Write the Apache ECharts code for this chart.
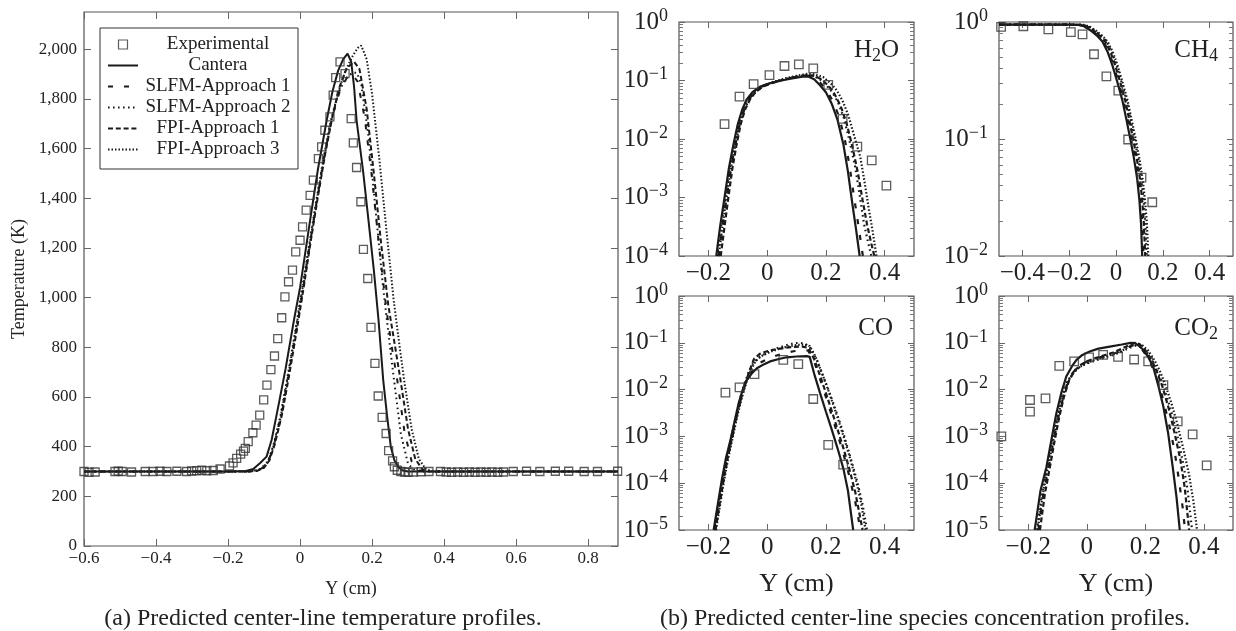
<!DOCTYPE html>
<html>
<head>
<meta charset="utf-8">
<script src="https://cdn.jsdelivr.net/npm/echarts@6/dist/echarts.min.js"></script>
<style>
  html, body { margin: 0; background: #fff; }
  #chart { width: 1236px; height: 631px; }
</style>
</head>
<body>
<div id="chart"></div>
<script>
var serif = 'Liberation Serif';
var ink = '#222';
var frame = '#555';
var tickCol = '#666';

var seriesNames = ['Experimental', 'Cantera', 'SLFM-Approach 1', 'SLFM-Approach 2', 'FPI-Approach 1', 'FPI-Approach 3'];

// ---- (a) temperature, [Y (cm), T (K)]
var tempExp = [[-0.600,300],[-0.586,297],[-0.569,298],[-0.514,300],[-0.505,301],[-0.494,300],[-0.468,298],[-0.430,300],[-0.408,300],[-0.389,301],[-0.370,300],[-0.342,301],[-0.315,300],[-0.301,302],[-0.287,303],[-0.273,305],[-0.259,303],[-0.241,304],[-0.222,310],[-0.196,322],[-0.186,335],[-0.176,353],[-0.165,370],[-0.157,382],[-0.152,393],[-0.144,420],[-0.131,456],[-0.122,487],[-0.112,527],[-0.101,588],[-0.092,648],[-0.081,710],[-0.071,765],[-0.062,835],[-0.051,919],[-0.042,1003],[-0.032,1064],[-0.021,1111],[-0.012,1184],[0.000,1231],[0.007,1285],[0.017,1352],[0.028,1412],[0.037,1473],[0.051,1560],[0.060,1607],[0.069,1674],[0.083,1728],[0.092,1815],[0.099,1886],[0.111,1949],[0.125,1902],[0.142,1721],[0.148,1623],[0.157,1524],[0.169,1386],[0.176,1194],[0.188,1077],[0.197,880],[0.208,735],[0.217,604],[0.228,518],[0.239,453],[0.246,384],[0.257,343],[0.262,319],[0.270,305],[0.280,300],[0.290,298],[0.300,297],[0.315,298],[0.336,299],[0.358,300],[0.390,300],[0.406,298],[0.421,297],[0.438,298],[0.454,297],[0.470,298],[0.486,297],[0.502,298],[0.517,297],[0.533,298],[0.549,297],[0.565,298],[0.592,300],[0.629,301],[0.666,300],[0.709,301],[0.746,301],[0.789,300],[0.826,300],[0.882,301]];
var tempCantera = [[-0.6,300],[-0.2,300],[-0.15,302],[-0.13,310],[-0.11,335],[-0.093,360],[-0.079,427],[-0.06,565],[-0.04,715],[-0.017,909],[0,1040],[0.028,1312],[0.05,1520],[0.074,1714],[0.09,1830],[0.106,1915],[0.12,1960],[0.132,1982],[0.142,1950],[0.15,1850],[0.157,1714],[0.175,1510],[0.19,1312],[0.205,1110],[0.218,909],[0.231,668],[0.242,520],[0.252,400],[0.262,345],[0.273,318],[0.285,304],[0.3,300],[0.883,300]];
var tempSlfm1 = [[-0.6,300],[-0.15,300],[-0.12,303],[-0.1,318],[-0.085,350],[-0.07,420],[-0.05,540],[-0.03,700],[-0.01,870],[0.01,1050],[0.03,1240],[0.05,1420],[0.07,1590],[0.09,1730],[0.11,1830],[0.13,1885],[0.145,1900],[0.16,1870],[0.18,1720],[0.2,1480],[0.22,1200],[0.24,950],[0.255,800],[0.27,668],[0.29,460],[0.31,340],[0.33,305],[0.35,300],[0.883,300]];
var tempSlfm2 = [[-0.6,300],[-0.14,300],[-0.11,310],[-0.09,340],[-0.075,400],[-0.055,520],[-0.035,680],[-0.015,850],[0.005,1030],[0.025,1210],[0.045,1390],[0.065,1560],[0.085,1710],[0.105,1820],[0.125,1880],[0.145,1905],[0.158,1905],[0.17,1860],[0.19,1650],[0.21,1350],[0.23,1050],[0.25,800],[0.261,668],[0.28,450],[0.3,330],[0.32,303],[0.34,300],[0.883,300]];
var tempFpi1 = [[-0.6,300],[-0.15,300],[-0.12,302],[-0.1,315],[-0.085,345],[-0.07,410],[-0.05,530],[-0.03,690],[-0.01,860],[0.01,1040],[0.03,1230],[0.05,1410],[0.07,1580],[0.09,1730],[0.11,1850],[0.13,1925],[0.15,1950],[0.165,1920],[0.185,1760],[0.205,1500],[0.225,1220],[0.245,970],[0.262,820],[0.279,668],[0.3,470],[0.32,350],[0.34,308],[0.36,300],[0.883,300]];
var tempFpi3 = [[-0.6,300],[-0.14,300],[-0.11,308],[-0.09,335],[-0.075,395],[-0.055,510],[-0.035,670],[-0.015,840],[0.005,1020],[0.025,1200],[0.045,1380],[0.065,1550],[0.085,1700],[0.105,1820],[0.125,1910],[0.145,1970],[0.16,2005],[0.17,2015],[0.185,1960],[0.2,1820],[0.22,1560],[0.24,1270],[0.26,990],[0.275,820],[0.289,668],[0.31,470],[0.33,350],[0.35,308],[0.37,300],[0.883,300]];

// ---- (b) species mole fractions, [Y (cm), X]
var h2oExp = [[-0.145,0.018],[-0.094,0.053],[-0.046,0.087],[0.008,0.124],[0.059,0.177],[0.108,0.189],[0.157,0.161],[0.208,0.084],[0.257,0.022],[0.307,0.0074],[0.356,0.0043],[0.406,0.0016]];
var h2oCantera = [[-0.173,1e-4],[-0.16,3.2e-4],[-0.145,1e-3],[-0.13,3.2e-3],[-0.115,7.9e-3],[-0.1,0.0178],[-0.085,0.0316],[-0.07,0.047],[-0.05,0.063],[-0.025,0.078],[0,0.087],[0.04,0.098],[0.08,0.107],[0.12,0.116],[0.14,0.117],[0.16,0.105],[0.18,0.083],[0.2,0.063],[0.22,0.04],[0.24,0.021],[0.26,0.0079],[0.275,0.0028],[0.29,7.9e-4],[0.303,2.8e-4],[0.315,1e-4]];
var h2oSlfm1 = [[-0.165,1e-4],[-0.152,3.2e-4],[-0.138,1e-3],[-0.123,3.2e-3],[-0.108,8e-3],[-0.093,0.018],[-0.078,0.032],[-0.062,0.048],[-0.042,0.064],[-0.018,0.079],[0.01,0.09],[0.05,0.102],[0.09,0.113],[0.125,0.122],[0.145,0.12],[0.165,0.108],[0.185,0.087],[0.205,0.065],[0.225,0.043],[0.245,0.024],[0.265,0.0095],[0.28,0.0036],[0.295,0.0011],[0.31,3.5e-4],[0.326,1e-4]];
var h2oSlfm2 = [[-0.17,1e-4],[-0.157,3.2e-4],[-0.142,1e-3],[-0.127,3.2e-3],[-0.112,8e-3],[-0.097,0.018],[-0.082,0.032],[-0.065,0.048],[-0.045,0.063],[-0.02,0.078],[0.015,0.091],[0.055,0.104],[0.095,0.115],[0.13,0.124],[0.155,0.121],[0.18,0.105],[0.2,0.085],[0.22,0.065],[0.24,0.044],[0.26,0.024],[0.28,0.0095],[0.3,0.0033],[0.315,0.0011],[0.33,3.5e-4],[0.345,1.6e-4],[0.355,1e-4]];
var h2oFpi1 = [[-0.158,1e-4],[-0.145,3.2e-4],[-0.132,1e-3],[-0.118,3.2e-3],[-0.104,8e-3],[-0.09,0.018],[-0.075,0.032],[-0.058,0.048],[-0.04,0.063],[-0.015,0.078],[0.015,0.09],[0.055,0.103],[0.095,0.114],[0.13,0.123],[0.16,0.12],[0.185,0.105],[0.21,0.08],[0.23,0.058],[0.25,0.037],[0.27,0.019],[0.29,0.0075],[0.31,0.0025],[0.325,9e-4],[0.34,3.5e-4],[0.355,1.6e-4],[0.365,1e-4]];
var h2oFpi3 = [[-0.165,1e-4],[-0.152,3.2e-4],[-0.138,1e-3],[-0.123,3.2e-3],[-0.108,8e-3],[-0.093,0.018],[-0.078,0.032],[-0.06,0.048],[-0.04,0.064],[-0.015,0.08],[0.02,0.094],[0.06,0.108],[0.1,0.12],[0.135,0.13],[0.16,0.128],[0.19,0.115],[0.217,0.089],[0.237,0.068],[0.257,0.045],[0.277,0.025],[0.297,0.011],[0.317,0.005],[0.332,0.0018],[0.347,6e-4],[0.36,2.5e-4],[0.372,1e-4]];

var ch4Exp = [[-0.491,0.91],[-0.396,0.92],[-0.289,0.865],[-0.193,0.82],[-0.143,0.785],[-0.094,0.53],[-0.041,0.343],[0.01,0.259],[0.052,0.099],[0.109,0.0467],[0.155,0.0288]];
var ch4Cantera = [[-0.5,0.95],[-0.2,0.95],[-0.16,0.945],[-0.137,0.92],[-0.11,0.85],[-0.08,0.76],[-0.058,0.68],[-0.035,0.55],[-0.016,0.43],[0.005,0.31],[0.027,0.215],[0.045,0.145],[0.062,0.098],[0.077,0.068],[0.091,0.045],[0.1,0.03],[0.107,0.019],[0.112,0.01]];
var ch4Slfm1 = [[-0.5,0.95],[-0.2,0.95],[-0.155,0.945],[-0.132,0.92],[-0.105,0.85],[-0.075,0.76],[-0.053,0.68],[-0.03,0.55],[-0.011,0.43],[0.01,0.31],[0.032,0.215],[0.05,0.145],[0.067,0.098],[0.082,0.068],[0.096,0.045],[0.105,0.03],[0.112,0.019],[0.118,0.01]];
var ch4Slfm2 = [[-0.5,0.95],[-0.2,0.95],[-0.145,0.945],[-0.12,0.92],[-0.092,0.85],[-0.062,0.76],[-0.04,0.68],[-0.017,0.55],[0.002,0.43],[0.023,0.31],[0.045,0.215],[0.063,0.145],[0.08,0.098],[0.095,0.068],[0.109,0.045],[0.118,0.03],[0.125,0.019],[0.131,0.01]];
var ch4Fpi1 = [[-0.5,0.95],[-0.2,0.95],[-0.15,0.945],[-0.125,0.92],[-0.098,0.85],[-0.068,0.76],[-0.046,0.68],[-0.023,0.55],[-0.004,0.43],[0.017,0.31],[0.039,0.215],[0.057,0.145],[0.074,0.098],[0.089,0.068],[0.103,0.045],[0.112,0.03],[0.119,0.019],[0.125,0.01]];
var ch4Fpi3 = [[-0.5,0.95],[-0.2,0.95],[-0.14,0.945],[-0.116,0.92],[-0.088,0.85],[-0.058,0.76],[-0.036,0.68],[-0.013,0.55],[0.006,0.43],[0.027,0.31],[0.049,0.215],[0.067,0.145],[0.085,0.098],[0.1,0.068],[0.114,0.045],[0.124,0.03],[0.132,0.019],[0.138,0.01]];

var coExp = [[-0.142,0.0086],[-0.094,0.0112],[-0.043,0.0215],[0.055,0.043],[0.106,0.035],[0.157,0.0063],[0.208,6.6e-4],[0.259,2.5e-4]];
var coCantera = [[-0.182,1e-5],[-0.168,3.5e-5],[-0.154,1.2e-4],[-0.14,3.5e-4],[-0.125,8.3e-4],[-0.11,2.2e-3],[-0.097,5.1e-3],[-0.083,0.01],[-0.069,0.016],[-0.05,0.023],[-0.035,0.0285],[-0.01,0.035],[0.01,0.04],[0.04,0.045],[0.067,0.049],[0.1,0.051],[0.135,0.052],[0.145,0.05],[0.16,0.022],[0.18,0.0085],[0.2,0.0034],[0.22,0.0014],[0.24,5.5e-4],[0.26,2e-4],[0.275,7e-5],[0.293,1e-5]];
var coSlfm1 = [[-0.178,1e-5],[-0.164,3.5e-5],[-0.15,1.2e-4],[-0.136,3.5e-4],[-0.121,8.5e-4],[-0.106,2.3e-3],[-0.092,5.5e-3],[-0.078,0.011],[-0.063,0.019],[-0.045,0.028],[-0.025,0.037],[0,0.045],[0.03,0.053],[0.06,0.06],[0.09,0.066],[0.12,0.07],[0.14,0.068],[0.16,0.04],[0.18,0.017],[0.2,0.007],[0.22,0.0028],[0.24,1.1e-3],[0.26,4.2e-4],[0.28,1.4e-4],[0.3,4e-5],[0.318,1e-5]];
var coSlfm2 = [[-0.18,1e-5],[-0.166,3.5e-5],[-0.152,1.2e-4],[-0.138,3.5e-4],[-0.123,9e-4],[-0.108,2.4e-3],[-0.094,5.8e-3],[-0.08,0.012],[-0.065,0.022],[-0.048,0.036],[-0.03,0.048],[0,0.062],[0.03,0.075],[0.06,0.087],[0.09,0.097],[0.11,0.1],[0.13,0.096],[0.15,0.075],[0.17,0.042],[0.19,0.02],[0.21,0.0095],[0.23,0.0042],[0.25,1.8e-3],[0.27,7e-4],[0.29,2.6e-4],[0.31,9e-5],[0.325,3.5e-5],[0.34,1e-5]];
var coFpi1 = [[-0.176,1e-5],[-0.162,3.5e-5],[-0.148,1.2e-4],[-0.134,3.5e-4],[-0.12,9e-4],[-0.105,2.5e-3],[-0.09,6e-3],[-0.075,0.013],[-0.06,0.025],[-0.045,0.045],[-0.025,0.058],[0,0.066],[0.03,0.073],[0.06,0.078],[0.09,0.082],[0.12,0.083],[0.14,0.078],[0.16,0.045],[0.18,0.02],[0.2,0.0085],[0.22,0.0035],[0.24,1.4e-3],[0.26,5.5e-4],[0.28,2e-4],[0.3,6.5e-5],[0.325,1e-5]];
var coFpi3 = [[-0.174,1e-5],[-0.16,3.5e-5],[-0.146,1.2e-4],[-0.132,3.5e-4],[-0.118,9e-4],[-0.103,2.5e-3],[-0.088,6e-3],[-0.073,0.013],[-0.058,0.024],[-0.04,0.04],[-0.02,0.052],[0.01,0.064],[0.04,0.074],[0.07,0.083],[0.1,0.09],[0.125,0.092],[0.145,0.085],[0.165,0.05],[0.185,0.024],[0.205,0.011],[0.225,0.0048],[0.245,2e-3],[0.265,8e-4],[0.285,3e-4],[0.305,1e-4],[0.32,3.8e-5],[0.335,1e-5]];

var co2Exp = [[-0.292,1.0e-3],[-0.194,0.006],[-0.194,0.0034],[-0.141,0.0065],[-0.094,0.032],[-0.043,0.04],[0.008,0.049],[0.056,0.055],[0.107,0.05],[0.162,0.044],[0.21,0.04],[0.262,0.0125],[0.311,0.0021],[0.362,0.0011],[0.41,2.4e-4]];
var co2Cantera = [[-0.178,1e-5],[-0.158,7e-5],[-0.138,2.2e-4],[-0.12,9e-4],[-0.104,3.1e-3],[-0.087,8.5e-3],[-0.07,0.019],[-0.05,0.032],[-0.035,0.043],[-0.015,0.055],[0.01,0.065],[0.04,0.075],[0.079,0.083],[0.12,0.092],[0.15,0.1],[0.165,0.098],[0.18,0.085],[0.193,0.071],[0.21,0.05],[0.227,0.031],[0.245,0.012],[0.262,0.0043],[0.278,1.2e-3],[0.294,2.2e-4],[0.307,5e-5],[0.318,1e-5]];
var co2Slfm1 = [[-0.165,1e-5],[-0.148,6e-5],[-0.13,2.2e-4],[-0.113,8e-4],[-0.097,2.6e-3],[-0.08,7e-3],[-0.063,0.015],[-0.045,0.024],[-0.025,0.032],[0,0.04],[0.03,0.046],[0.06,0.052],[0.09,0.058],[0.12,0.068],[0.15,0.085],[0.168,0.092],[0.185,0.078],[0.2,0.058],[0.22,0.035],[0.24,0.017],[0.26,0.0065],[0.28,2e-3],[0.3,5e-4],[0.315,1.2e-4],[0.328,3e-5],[0.336,1e-5]];
var co2Slfm2 = [[-0.17,1e-5],[-0.153,6e-5],[-0.135,2.2e-4],[-0.118,8e-4],[-0.102,2.6e-3],[-0.085,7e-3],[-0.068,0.014],[-0.05,0.022],[-0.03,0.029],[0,0.036],[0.03,0.042],[0.06,0.048],[0.09,0.055],[0.12,0.065],[0.15,0.08],[0.17,0.088],[0.19,0.078],[0.21,0.058],[0.23,0.036],[0.25,0.019],[0.27,0.0085],[0.29,3.2e-3],[0.31,1e-3],[0.33,2.6e-4],[0.345,7e-5],[0.36,1e-5]];
var co2Fpi1 = [[-0.16,1e-5],[-0.143,6e-5],[-0.126,2.2e-4],[-0.11,8e-4],[-0.094,2.6e-3],[-0.078,7e-3],[-0.06,0.016],[-0.04,0.026],[-0.02,0.034],[0,0.04],[0.03,0.047],[0.06,0.054],[0.09,0.062],[0.12,0.075],[0.15,0.092],[0.165,0.1],[0.18,0.094],[0.2,0.07],[0.22,0.045],[0.24,0.024],[0.26,0.011],[0.28,4e-3],[0.3,1.2e-3],[0.32,3.2e-4],[0.335,8e-5],[0.35,1e-5]];
var co2Fpi3 = [[-0.168,1e-5],[-0.15,6e-5],[-0.132,2.2e-4],[-0.115,8e-4],[-0.099,2.6e-3],[-0.082,7e-3],[-0.065,0.015],[-0.045,0.023],[-0.025,0.03],[0,0.037],[0.03,0.044],[0.06,0.05],[0.09,0.057],[0.12,0.068],[0.15,0.085],[0.172,0.095],[0.19,0.088],[0.21,0.068],[0.23,0.044],[0.25,0.025],[0.27,0.012],[0.29,5e-3],[0.31,1.8e-3],[0.33,5.5e-4],[0.35,1.5e-4],[0.365,4e-5],[0.377,1e-5]];

// tick positions
var tempXTicks = [-0.6, -0.4, -0.2, 0, 0.2, 0.4, 0.6, 0.8];
var tempYTicks = [0, 200, 400, 600, 800, 1000, 1200, 1400, 1600, 1800, 2000];
var speciesXTicks = [-0.2, 0, 0.2, 0.4];
var ch4XTicks = [-0.4, -0.2, 0, 0.2, 0.4];

// dash patterns: experimental, Cantera, SLFM-1, SLFM-2, FPI-1, FPI-3
var lineDash = [null, 'solid', [5, 11], [1.6, 3.4], [5, 2.8], [1.5, 2]];
var lineInk = '#1a1a1a';

var panels = [
  { box: [84, 12, 534, 534], x: [-0.6, 0.883], xTicks: tempXTicks, log: false, y: [0, 2150],
    xName: true, data: [tempExp, tempCantera, tempSlfm1, tempSlfm2, tempFpi1, tempFpi3] },
  { box: [679, 22, 235, 234], x: [-0.3, 0.5], xTicks: speciesXTicks, log: true, y: [1e-4, 1],
    label: ['H', '2', 'O'], labelPos: [899, 50], data: [h2oExp, h2oCantera, h2oSlfm1, h2oSlfm2, h2oFpi1, h2oFpi3] },
  { box: [999, 22, 234, 234], x: [-0.5, 0.5], xTicks: ch4XTicks, log: true, y: [1e-2, 1],
    label: ['CH', '4', ''], labelPos: [1218, 50], data: [ch4Exp, ch4Cantera, ch4Slfm1, ch4Slfm2, ch4Fpi1, ch4Fpi3] },
  { box: [679, 296, 235, 234], x: [-0.3, 0.5], xTicks: speciesXTicks, log: true, y: [1e-5, 1],
    xName: true, label: ['CO', '', ''], labelPos: [893, 328], data: [coExp, coCantera, coSlfm1, coSlfm2, coFpi1, coFpi3] },
  { box: [999, 296, 234, 234], x: [-0.3, 0.5], xTicks: speciesXTicks, log: true, y: [1e-5, 1],
    xName: true, label: ['CO', '2', ''], labelPos: [1218, 328], data: [co2Exp, co2Cantera, co2Slfm1, co2Slfm2, co2Fpi1, co2Fpi3] }
];

function fmtX(v) {
  if (Math.abs(v) < 1e-9) return '0';
  return (v < 0 ? '\u2212' : '') + Math.abs(v);
}
function fmtLog(v) {
  var e = Math.round(Math.log10(v));
  return '{b|10}{s|' + (e < 0 ? '\u2212' : '') + Math.abs(e) + '}';
}
function minorTicks(lo, hi) {
  var out = [];
  for (var n = Math.round(Math.log10(lo)); n < Math.round(Math.log10(hi)); n++) {
    for (var k = 2; k <= 9; k++) out.push(n + Math.log10(k));
  }
  return out;
}

// legend entries: hollow square for the data, bare line for the models
var legendData = seriesNames.map(function (n, k) {
  if (k === 0) {
    return { name: n, icon: 'path://M0 0H10V10H0Z',
      itemStyle: { color: 'rgba(0,0,0,0)', borderColor: '#333', borderWidth: 1.2 } };
  }
  return { name: n, itemStyle: { color: 'rgba(0,0,0,0)', borderWidth: 0, opacity: 0 },
    lineStyle: { color: lineInk, width: 2, type: lineDash[k], opacity: 1 } };
});

var option = {
  animation: false,
  backgroundColor: '#fff',
  textStyle: { fontFamily: serif, color: ink },
  grid: [], xAxis: [], yAxis: [], series: [],
  legend: {
    orient: 'vertical', left: 100, top: 28,
    backgroundColor: '#fff', borderColor: '#333', borderWidth: 1,
    padding: [7, 5, 10, 7],
    itemWidth: 30, itemHeight: 9, itemGap: 2,
    selectedMode: false,
    data: legendData,
    formatter: function (n) { return '{c|' + n + '}'; },
    textStyle: {
      fontFamily: serif, fontSize: 19, color: ink,
      rich: { c: { width: 150, align: 'center', fontFamily: serif, fontSize: 19, lineHeight: 19, color: ink } }
    }
  },
  title: [
    { text: '(a) Predicted center-line temperature profiles.', left: 323, top: 607, textAlign: 'center', padding: 0,
      textStyle: { fontFamily: serif, fontSize: 24, fontWeight: 'normal', color: ink } },
    { text: '(b) Predicted center-line species concentration profiles.', left: 925, top: 607, textAlign: 'center', padding: 0,
      textStyle: { fontFamily: serif, fontSize: 24, fontWeight: 'normal', color: ink } }
  ]
};

panels.forEach(function (p, i) {
  option.grid.push({ left: p.box[0], top: p.box[1], width: p.box[2], height: p.box[3],
    show: true, borderColor: frame, borderWidth: 1.2, backgroundColor: 'transparent' });

  var big = p.log;
  var xi = option.xAxis.length;
  ['bottom', 'top'].forEach(function (pos, j) {
    option.xAxis.push({
      type: 'value', gridIndex: i, position: pos, min: p.x[0], max: p.x[1],
      axisLine: { show: false, onZero: false },
      splitLine: { show: false },
      axisTick: { show: true, inside: true, length: big ? 6 : 7, lineStyle: { color: tickCol, width: 1 }, customValues: p.xTicks },
      axisLabel: { show: j === 0, customValues: p.xTicks, formatter: fmtX, margin: big ? 5 : 4,
        color: ink, fontFamily: serif, fontSize: big ? 25 : 17 },
      name: (j === 0 && p.xName) ? 'Y (cm)' : '',
      nameLocation: 'middle', nameGap: big ? 41 : 34,
      nameTextStyle: { fontFamily: serif, fontSize: big ? 26 : 18, color: ink }
    });
  });

  var yi = option.yAxis.length;
  ['left', 'right'].forEach(function (pos, j) {
    var ax = {
      gridIndex: i, position: pos, min: p.y[0], max: p.y[1],
      axisLine: { show: false, onZero: false },
      splitLine: { show: false },
      axisTick: { show: true, inside: true, length: big ? 6 : 7, lineStyle: { color: tickCol, width: 1 } },
      axisLabel: { show: j === 0, color: ink, fontFamily: serif }
    };
    if (p.log) {
      ax.type = 'log';
      ax.logBase = 10;
      ax.axisLabel.formatter = fmtLog;
      ax.axisLabel.margin = 11;
      ax.axisLabel.rich = {
        b: { fontFamily: serif, fontSize: 25, lineHeight: 30, color: ink },
        s: { fontFamily: serif, fontSize: 18, lineHeight: 17, verticalAlign: 'top', color: ink }
      };
    } else {
      ax.type = 'value';
      ax.axisTick.customValues = tempYTicks;
      ax.axisLabel.customValues = tempYTicks;
      ax.axisLabel.fontSize = 17;
      ax.axisLabel.margin = 7;
      ax.axisLabel.formatter = function (v) { return v.toLocaleString('en-US'); };
      if (j === 0) {
        ax.name = 'Temperature (K)';
        ax.nameLocation = 'middle';
        ax.nameGap = 56;
        ax.nameRotate = 90;
        ax.nameTextStyle = { fontFamily: serif, fontSize: 18, color: ink };
      }
    }
    option.yAxis.push(ax);
  });

  if (p.log) {
    // log minor ticks, drawn on value axes spanning log10 of the range
    var lo = Math.log10(p.y[0]), hi = Math.log10(p.y[1]);
    var mt = minorTicks(p.y[0], p.y[1]);
    ['left', 'right'].forEach(function (pos) {
      option.yAxis.push({
        type: 'value', gridIndex: i, position: pos, min: lo, max: hi,
        axisLine: { show: false, onZero: false },
        splitLine: { show: false },
        axisLabel: { show: false },
        axisTick: { show: true, inside: true, length: 4, lineStyle: { color: '#777', width: 1 }, customValues: mt }
      });
    });
  }

  p.data.forEach(function (d, k) {
    if (k === 0) {
      option.series.push({
        name: seriesNames[k], type: 'scatter', data: d, xAxisIndex: xi, yAxisIndex: yi,
        symbol: 'rect', symbolSize: big ? 8.5 : 8, clip: false, silent: true, z: 5,
        itemStyle: { color: 'rgba(0,0,0,0)', borderColor: '#333', borderWidth: 1.3 }
      });
    } else {
      option.series.push({
        name: seriesNames[k], type: 'line', data: d, xAxisIndex: xi, yAxisIndex: yi,
        symbol: 'none', showSymbol: false, silent: true, z: 3, color: lineInk,
        lineStyle: { color: lineInk, width: big ? 2.2 : 2, type: lineDash[k], cap: 'butt' }
      });
    }
  });

  if (p.label) {
    option.title.push({
      text: '{m|' + p.label[0] + '}' + (p.label[1] ? '{s|' + p.label[1] + '}' : '') + (p.label[2] ? '{m|' + p.label[2] + '}' : ''),
      right: 1236 - p.labelPos[0], top: p.labelPos[1] - 15, padding: 0,
      textStyle: {
        fontWeight: 'normal',
        rich: {
          m: { fontFamily: serif, fontSize: 25, fontWeight: 'normal', lineHeight: 30, color: ink },
          s: { fontFamily: serif, fontSize: 18, fontWeight: 'normal', lineHeight: 16, verticalAlign: 'bottom', color: ink }
        }
      }
    });
  }
});

var chart = echarts.init(document.getElementById('chart'));
chart.setOption(option);
</script>
</body>
</html>
